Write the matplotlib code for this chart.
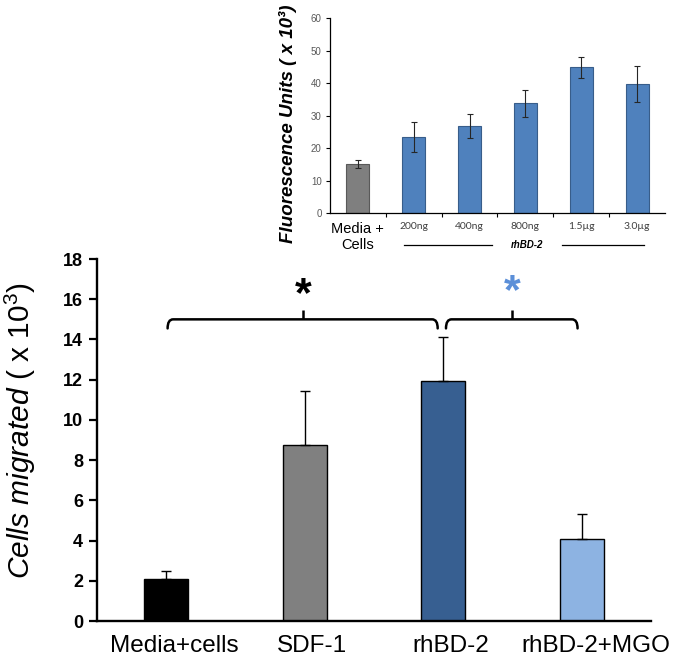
import numpy as np
import matplotlib
matplotlib.use("Agg")
import matplotlib.pyplot as plt
import matplotlib.transforms as mtransforms
from matplotlib.path import Path
from matplotlib.patches import PathPatch

plt.rcParams['font.family'] = ['Liberation Sans', 'DejaVu Sans']
plt.rcParams['mathtext.fontset'] = 'custom'
plt.rcParams['mathtext.rm'] = 'Liberation Sans'
plt.rcParams['mathtext.it'] = 'Liberation Sans:italic'
plt.rcParams['mathtext.bf'] = 'Liberation Sans:bold'

# -----------------------------
# DATA
# -----------------------------
# main panel: migration assay
groups = ["Media+cells", "SDF-1", "rhBD-2", "rhBD-2+MGO"]
migrated = [2.1, 8.75, 11.95, 4.1]
migrated_err = [0.38, 2.7, 2.15, 1.2]
group_colors = ["#000000", "#808080", "#375F91", "#8DB3E2"]

# inset: fluorescence dose response
doses = ["Media +\nCells", "200ng", "400ng", "800ng", "1.5\u00b5g", "3.0\u00b5g"]
fluor = [15.1, 23.6, 26.9, 33.8, 44.9, 39.8]
fluor_err = [1.3, 4.6, 3.6, 4.1, 3.3, 5.6]
dose_colors = ["#7F7F7F", "#4F81BD", "#4F81BD", "#4F81BD", "#4F81BD", "#4F81BD"]
dose_edges = ["#595959", "#385D8A", "#385D8A", "#385D8A", "#385D8A", "#385D8A"]


def bracket(ax, x0, x1, xm, y, hook, tip, rx, color):
    # curly-ish bracket: hooks down at both ends, small tick up in the middle
    verts = [(x0, y - hook), (x0, y), (x0 + rx, y),
             (x1 - rx, y), (x1, y), (x1, y - hook)]
    codes = [Path.MOVETO, Path.CURVE3, Path.CURVE3,
             Path.LINETO, Path.CURVE3, Path.CURVE3]
    ax.add_patch(PathPatch(Path(verts, codes), fill=False, lw=1.8,
                           edgecolor=color, capstyle='round', clip_on=False))
    ax.plot([xm, xm], [y, y + tip], color=color, lw=1.8, clip_on=False,
            solid_capstyle='butt')


fig = plt.figure(figsize=(6.8, 6.7), dpi=100)

# -----------------------------
# MAIN PANEL
# -----------------------------
ax = fig.add_axes([0.1426, 0.0731, 0.8147, 0.5403])
x = np.arange(len(groups))
ax.bar(x, migrated, width=0.32, color=group_colors, edgecolor="black",
       linewidth=1.0, zorder=2)
ax.errorbar(x, migrated, yerr=[np.zeros(len(x)), migrated_err], fmt='none',
            ecolor='black', elinewidth=1.0, capsize=3.5, capthick=1.0, zorder=3)

ax.set_xlim(-0.5, 3.5)
ax.set_ylim(0, 18)
ax.set_yticks(np.arange(0, 19, 2))
ax.set_xticks(x)
ax.set_xticklabels(groups, fontsize=17.5)
ax.tick_params(axis='x', length=0, pad=10)
ax.tick_params(axis='y', direction='out', length=6, width=1.6, pad=4,
               labelsize=13)
for lab in ax.get_yticklabels():
    lab.set_fontweight('bold')
# category labels sit a little right of the bars in the original
for lab, dx in zip(ax.get_xticklabels(), [0.08, 0.07, 0.08, 0.14]):
    lab.set_transform(lab.get_transform() +
                      mtransforms.ScaledTranslation(dx, 0, fig.dpi_scale_trans))
for side in ['top', 'right']:
    ax.spines[side].set_visible(False)
for side in ['left', 'bottom']:
    ax.spines[side].set_linewidth(1.7)

ax.set_ylabel(r"$\mathit{Cells\ migrated}$ ( x 10$^{3}$)", fontsize=21.5)
ax.yaxis.set_label_coords(-0.106, 0.527)

# significance brackets
bracket(ax, 0.01, 1.96, 0.99, 15.0, 0.45, 0.45, 0.04, 'black')
bracket(ax, 2.02, 2.97, 2.5, 15.0, 0.45, 0.45, 0.04, 'black')
ax.text(0.99, 16.2, "*", fontsize=31, fontweight='bold', ha='center',
        va='center', color='black')
ax.text(2.5, 16.35, "*", fontsize=31, fontweight='bold', ha='center',
        va='center', color='#5B8FD8')

# -----------------------------
# INSET
# -----------------------------
ax2 = fig.add_axes([0.4853, 0.6816, 0.4926, 0.2911])
xi = np.arange(len(doses))
ax2.bar(xi, fluor, width=0.41, color=dose_colors, edgecolor=dose_edges,
        linewidth=0.8, zorder=2)
ax2.errorbar(xi, fluor, yerr=fluor_err, fmt='none', ecolor='#262626',
             elinewidth=0.8, capsize=2.2, capthick=0.8, zorder=3)
ax2.set_xlim(-0.5, 5.5)
ax2.set_ylim(0, 60)
ax2.set_yticks(np.arange(0, 61, 10))
ax2.tick_params(axis='y', direction='out', length=3, width=0.8,
                labelsize=7, labelcolor='#595959', pad=3)
# boundary ticks between categories, labels on minor ticks
ax2.set_xticks(xi[:-1] + 0.5)
ax2.set_xticklabels([])
ax2.tick_params(axis='x', which='major', direction='out', length=3, width=0.8)
ax2.set_xticks(xi, minor=True)
ax2.set_xticklabels(doses, minor=True)
ax2.tick_params(axis='x', which='minor', length=0, pad=6)
for i, lab in enumerate(ax2.get_xticklabels(minor=True)):
    if i == 0:
        lab.set_fontsize(10.5)
        lab.set_linespacing(1.25)
    else:
        lab.set_family(['Lato', 'DejaVu Sans'])
        lab.set_fontsize(7.5)
        lab.set_color('#404040')
for side in ['top', 'right']:
    ax2.spines[side].set_visible(False)
for side in ['left', 'bottom']:
    ax2.spines[side].set_linewidth(0.9)

ax2.set_ylabel("Fluorescence Units ( x 10\u00b3)", fontsize=13.5,
               style='italic', fontweight='bold')
ax2.yaxis.set_label_coords(-0.1, 0.46)

# rhBD-2 group marker under the dose labels
trans = mtransforms.blended_transform_factory(ax2.transData, ax2.transAxes)
ax2.plot([0.83, 2.41], [-0.163, -0.163], color='black', lw=0.9,
         transform=trans, clip_on=False)
ax2.plot([3.66, 5.12], [-0.163, -0.163], color='black', lw=0.9,
         transform=trans, clip_on=False)
ax2.text(3.02, -0.163, "rhBD-2", transform=trans, fontsize=7,
         fontweight='bold', style='italic', ha='center', va='center')

fig.savefig("out.png", dpi=100)
